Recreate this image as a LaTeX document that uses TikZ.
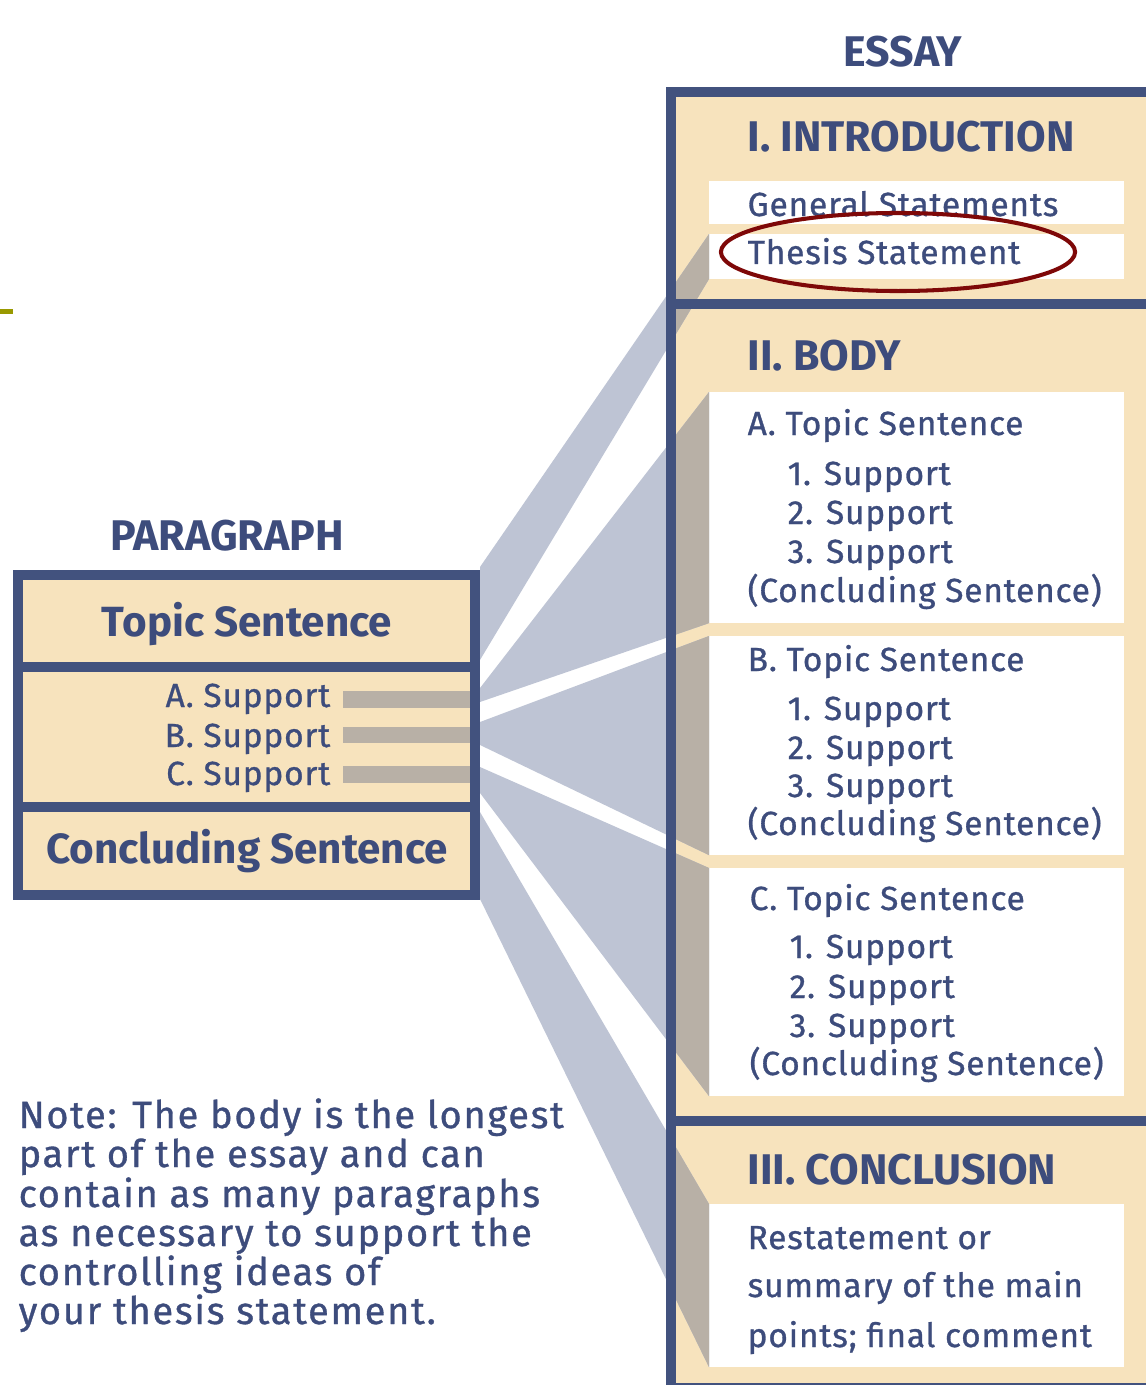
\documentclass[tikz,border=0pt]{standalone}
\usepackage{fontspec}
\setmainfont{Fira Sans}
\newfontfamily\medfont{Fira Sans}[FakeBold=0.9, LetterSpace=2.5]
\newfontfamily\notefont{Fira Sans}[FakeBold=0.9, LetterSpace=4.5]
\usetikzlibrary{positioning}
\definecolor{navy}{HTML}{42527E}
\definecolor{ink}{HTML}{3D4C7C}
\definecolor{cream}{HTML}{F7E3BD}
\definecolor{fanblue}{HTML}{BEC4D4}
\definecolor{wedgegray}{HTML}{B8B0A6}
\definecolor{inkred}{HTML}{7E0808}
\definecolor{olive}{HTML}{999900}

\tikzset{
  frame/.style={draw=navy, line width=1mm},
  section/.style={draw=navy, line width=1mm, fill=cream, inner sep=0pt, outer sep=0pt,
    minimum width=4.57cm, anchor=north west},
  whitebox/.style={fill=white, inner sep=0pt, outer sep=0pt, minimum width=4.15cm, anchor=north west},
  title/.style={font=\bfseries\fontsize{12.2}{14}\selectfont, text=ink, inner sep=0pt, anchor=base},
  head/.style={font=\bfseries\fontsize{12.2}{14}\selectfont, text=ink, inner sep=0pt, anchor=base west},
  parabig/.style={font=\bfseries\fontsize{12}{14}\selectfont, text=ink, inner sep=0pt, anchor=base},
  item/.style={font=\medfont\fontsize{9.5}{11}\selectfont, text=ink, inner sep=0pt, anchor=base west},
  note/.style={font=\notefont\fontsize{10.8}{12}\selectfont, text=ink, inner sep=0pt, anchor=base west},
}

\begin{document}
\begin{tikzpicture}[x=0.01cm, y=-0.01cm]
\useasboundingbox (0,0) rectangle (1146,1385);
\clip (0,0) rectangle (1146,1385);

\fill[olive] (0,309) rectangle (13,314);

% essay frame and its white boxes
\fill[cream] (671,92) rectangle (1200,1388);
\node[whitebox, minimum height=0.43cm] (genbox) at (709,181) {};
\node[whitebox, minimum height=0.45cm] (thesisbox) at (709,234) {};
\node[whitebox, minimum height=2.31cm] (bodyA) at (709,392) {};
\node[whitebox, minimum height=2.19cm] (bodyB) at (709,636) {};
\node[whitebox, minimum height=2.28cm] (bodyC) at (709,868) {};
\node[whitebox, minimum height=1.63cm] (conclbox) at (709,1204) {};

% fan from the paragraph to the essay
\fill[fanblue] (480,567) -- (thesisbox.north west) -- (thesisbox.south west) -- (480,660) -- cycle;
\fill[fanblue] (480,688) -- (bodyA.north west) -- (bodyA.south west) -- (480,702) -- cycle;
\fill[fanblue] (480,722) -- (bodyB.north west) -- (bodyB.south west) -- (480,745) -- cycle;
\fill[fanblue] (480,767) -- (bodyC.north west) -- (bodyC.south west) -- (480,793) -- cycle;
\fill[fanblue] (480,812) -- (conclbox.north west) -- (conclbox.south west) -- (480,899) -- cycle;
\begin{scope}
\clip (671,92) rectangle (709,1388);
\fill[wedgegray] (480,567) -- (thesisbox.north west) -- (thesisbox.south west) -- (480,660) -- cycle;
\fill[wedgegray] (480,688) -- (bodyA.north west) -- (bodyA.south west) -- (480,702) -- cycle;
\fill[wedgegray] (480,722) -- (bodyB.north west) -- (bodyB.south west) -- (480,745) -- cycle;
\fill[wedgegray] (480,767) -- (bodyC.north west) -- (bodyC.south west) -- (480,793) -- cycle;
\fill[wedgegray] (480,812) -- (conclbox.north west) -- (conclbox.south west) -- (480,899) -- cycle;
\end{scope}

\draw[frame] (671,92) rectangle (1200,1388);
\draw[frame] (671,304) -- (1200,304);
\draw[frame] (671,1121) -- (1200,1121);

% paragraph box
\node[section, minimum height=0.92cm] (topicSec) at (18,575) {};
\node[section, minimum height=1.40cm] (supportSec) at (18,667) {};
\node[section, minimum height=0.88cm] (conclSec) at (18,807) {};
\fill[wedgegray] (343,691) rectangle (470,708);
\fill[wedgegray] (343,727) rectangle (470,743);
\fill[wedgegray] (343,766) rectangle (470,783);

% titles
\node[title] (essayTitle) at (903,67) {ESSAY};
\node[title] (paraTitle) at (227,550) {PARAGRAPH};

% paragraph texts
\node[parabig] (topicTxt) at (247,636) {Topic Sentence};
\node[item, anchor=base east] (supA) at (331,707) {A. Support};
\node[item, anchor=base east] (supB) at (331,747) {B. Support};
\node[item, anchor=base east] (supC) at (331,785) {C. Support};
\node[parabig] (conclTxt) at (247,863) {Concluding Sentence};

% introduction
\node[head] (introHead) at (747,152) {I. INTRODUCTION};
\node[item] (general) at (747,216) {General Statements};
\node[item] (thesis) at (747,264) {Thesis Statement};

% body
\node[head] (bodyHead) at (747,370) {II. BODY};
\node[item] (topA) at (747,435) {A. Topic Sentence};
\node[item] (a1) at (787,485) {1. Support};
\node[item] (a2) at (787,524) {2. Support};
\node[item] (a3) at (787,563) {3. Support};
\node[item] (aC) at (747,602) {(Concluding Sentence)};
\node[item] (topB) at (747,671) {B. Topic Sentence};
\node[item] (b1) at (787,720) {1. Support};
\node[item] (b2) at (787,759) {2. Support};
\node[item] (b3) at (787,797) {3. Support};
\node[item] (bC) at (747,835) {(Concluding Sentence)};
\node[item] (topC) at (749,910) {C. Topic Sentence};
\node[item] (c1) at (789,958) {1. Support};
\node[item] (c2) at (789,998) {2. Support};
\node[item] (c3) at (789,1037) {3. Support};
\node[item] (cC) at (749,1075) {(Concluding Sentence)};

% conclusion
\node[head] (conclHead) at (747,1184) {III. CONCLUSION};
\node[item] (restate) at (747,1249) {Restatement or};
\node[item] (summary) at (747,1297) {summary of the main};
\node[item] (final) at (747,1347) {points; final comment};

% note
\node[note] (note1) at (18,1128) {Note: The body is the longest};
\node[note] (note2) at (18,1167) {part of the essay and can};
\node[note] (note3) at (18,1207) {contain as many paragraphs};
\node[note] (note4) at (18,1246) {as necessary to support the};
\node[note] (note5) at (18,1285) {controlling ideas of};
\node[note] (note6) at (18,1324) {your thesis statement.};

\draw[inkred, line width=1.15pt] (898,252) ellipse [x radius=1.77cm, y radius=0.39cm];
\end{tikzpicture}
\end{document}
